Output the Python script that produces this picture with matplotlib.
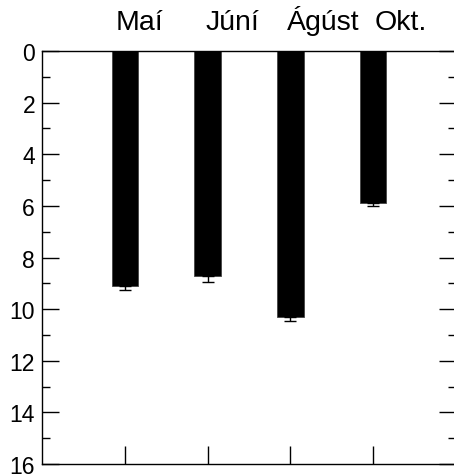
import numpy as np
import matplotlib
matplotlib.use('Agg')
import matplotlib.pyplot as plt

plt.rcParams['font.family'] = ['Liberation Sans', 'DejaVu Sans']

# data
months = ['Maí', 'Júní', 'Ágúst', 'Okt.']
xpos = [1, 2, 3, 4]
values = [9.12, 8.72, 10.30, 5.87]
errs = [0.15, 0.22, 0.17, 0.12]
yticks = [0, 2, 4, 6, 8, 10, 12, 14, 16]

fig = plt.figure(figsize=(4.54, 4.77), dpi=100)
ax = fig.add_axes([42/454, 1-465/477, 414/454, (465-52)/477])

ax.bar(xpos, values, width=0.32, color='black', edgecolor='#444444', linewidth=0.6)
ax.errorbar(xpos, values, yerr=[np.zeros(len(errs)), errs], fmt='none',
            ecolor='black', elinewidth=1, capsize=4, capthick=1)

ax.set_xlim(0, 5)
ax.set_ylim(16, 0)
ax.set_yticks(yticks)
ax.set_yticks(np.arange(1, 16, 2), minor=True)
ax.set_xticks(xpos)
ax.set_xticklabels([])
ax.tick_params(axis='y', which='major', direction='in', length=12, width=1,
               labelsize=16.5, right=True, pad=5)
ax.tick_params(axis='y', which='minor', direction='in', length=6, width=1, right=True)
ax.tick_params(axis='x', which='major', direction='in', length=13, width=1, top=False)
for s in ax.spines.values():
    s.set_linewidth(1)

# month labels above the plot
label_x = [140, 232, 323, 401]
for lx, m in zip(label_x, months):
    fig.text(lx/454, 1-30/477, m, ha='center', va='baseline', fontsize=20.5)

fig.savefig('out.png', dpi=100)
